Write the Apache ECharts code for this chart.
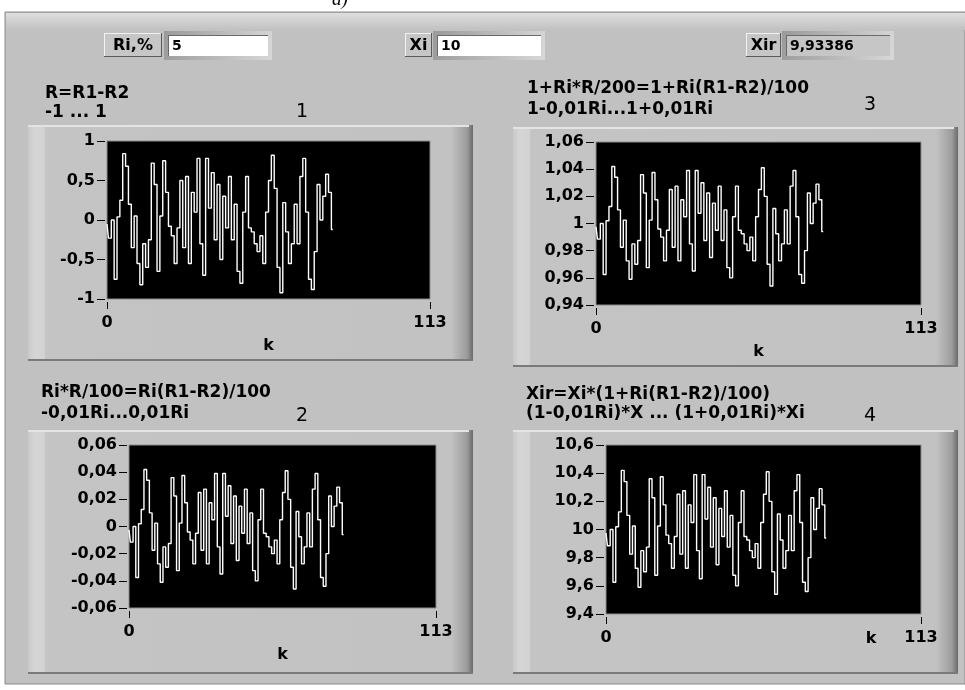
<!DOCTYPE html>
<html><head><meta charset="utf-8">
<script src="https://cdn.jsdelivr.net/npm/echarts@6/dist/echarts.min.js"></script>
<style>html,body{margin:0;padding:0;background:#fff}#c{width:965px;height:690px}</style>
</head><body><div id="c"></div>
<script>
// ---- data (k = array index) ----
const R = [-0.05,-0.23,0.0,-0.75,0.04,0.25,0.84,0.68,0.2,-0.35,0.05,-0.55,-0.82,-0.3,-0.6,-0.25,0.72,0.45,-0.65,0.05,0.75,0.35,-0.08,-0.2,-0.55,-0.1,0.5,-0.35,0.55,-0.55,0.35,0.1,0.78,-0.3,-0.7,0.78,0.15,0.6,-0.25,0.45,-0.5,0.3,-0.1,0.55,-0.25,0.2,-0.65,-0.8,0.1,0.55,-0.1,-0.15,-0.3,-0.4,-0.2,-0.55,0.1,0.5,0.82,0.4,-0.6,-0.92,0.22,-0.15,-0.55,-0.3,0.2,-0.3,0.55,0.78,0.1,-0.75,-0.88,-0.4,0.45,0.0,0.3,0.58,0.35,-0.12];
const S2 = [-0.0025,-0.0115,0,-0.0375,0.002,0.0125,0.042,0.034,0.01,-0.0175,0.0025,-0.0275,-0.041,-0.015,-0.03,-0.0125,0.036,0.0225,-0.0325,0.0025,0.0375,0.0175,-0.004,-0.01,-0.0275,-0.005,0.025,-0.0175,0.0275,-0.0275,0.0175,0.005,0.039,-0.015,-0.035,0.039,0.0075,0.03,-0.0125,0.0225,-0.025,0.015,-0.005,0.0275,-0.0125,0.01,-0.0325,-0.04,0.005,0.0275,-0.005,-0.0075,-0.015,-0.02,-0.01,-0.0275,0.005,0.025,0.041,0.02,-0.03,-0.046,0.011,-0.0075,-0.0275,-0.015,0.01,-0.015,0.0275,0.039,0.005,-0.0375,-0.044,-0.02,0.0225,0,0.015,0.029,0.0175,-0.006];
const S3 = [0.9975,0.9885,1,0.9625,1.002,1.0125,1.042,1.034,1.01,0.9825,1.0025,0.9725,0.959,0.985,0.97,0.9875,1.036,1.0225,0.9675,1.0025,1.0375,1.0175,0.996,0.99,0.9725,0.995,1.025,0.9825,1.0275,0.9725,1.0175,1.005,1.039,0.985,0.965,1.039,1.0075,1.03,0.9875,1.0225,0.975,1.015,0.995,1.0275,0.9875,1.01,0.9675,0.96,1.005,1.0275,0.995,0.9925,0.985,0.98,0.99,0.9725,1.005,1.025,1.041,1.02,0.97,0.954,1.011,0.9925,0.9725,0.985,1.01,0.985,1.0275,1.039,1.005,0.9625,0.956,0.98,1.0225,1,1.015,1.029,1.0175,0.994];
const S4 = [9.975,9.885,10,9.625,10.02,10.125,10.42,10.34,10.1,9.825,10.025,9.725,9.59,9.85,9.7,9.875,10.36,10.225,9.675,10.025,10.375,10.175,9.96,9.9,9.725,9.95,10.25,9.825,10.275,9.725,10.175,10.05,10.39,9.85,9.65,10.39,10.075,10.3,9.875,10.225,9.75,10.15,9.95,10.275,9.875,10.1,9.675,9.6,10.05,10.275,9.95,9.925,9.85,9.8,9.9,9.725,10.05,10.25,10.41,10.2,9.7,9.54,10.11,9.925,9.725,9.85,10.1,9.85,10.275,10.39,10.05,9.625,9.56,9.8,10.225,10,10.15,10.29,10.175,9.94];
const X_TICKS = [0, 113];
const Y1 = [-1, 1, 0.5];
const Y2 = [-0.06, 0.06, 0.02];
const Y3 = [0.94, 1.06, 0.02];
const Y4 = [9.4, 10.6, 0.2];
const TITLES1 = ['R=R1-R2', '-1 ... 1', '1'];
const TITLES2 = ['Ri*R/100=Ri(R1-R2)/100', '-0,01Ri...0,01Ri', '2'];
const TITLES3 = ['1+Ri*R/200=1+Ri(R1-R2)/100', '1-0,01Ri...1+0,01Ri', '3'];
const TITLES4 = ['Xir=Xi*(1+Ri(R1-R2)/100)', '(1-0,01Ri)*X ... (1+0,01Ri)*Xi', '4'];
const CONTROLS = [['Ri,%', '5'], ['Xi', '10'], ['Xir', '9,93386']];

// ---- styling helpers ----
const FONT = '"DejaVu Sans", Verdana, sans-serif';
const BOLD16 = 'bold 16px ' + FONT;
const BOLD17 = 'bold 17px ' + FONT;
function rect(x, y, w, h, fill, extra) {
  return Object.assign({type: 'rect', silent: true, z: -10, shape: {x, y, width: w, height: h}, style: {fill}}, extra || {});
}
function ln(x1, y1, x2, y2, c, w) {
  return {type: 'line', silent: true, z: -9, shape: {x1, y1, x2, y2}, style: {stroke: c, lineWidth: w || 1}};
}
function txt(x, y, s, font, align) {
  return {type: 'text', silent: true, z: 10, x, y, style: {text: s, font, fill: '#000', textAlign: align || 'left', textVerticalAlign: 'middle'}};
}
function frame(x, y, w, h) {
  return [
    rect(x, y, w, h, {type: 'linear', x: 0, y: 0, x2: 1, y2: 0, colorStops: [
      {offset: 0, color: '#c8c8c8'}, {offset: 6 / w, color: '#d5d5d5'}, {offset: 16 / w, color: '#d3d3d3'},
      {offset: 18 / w, color: '#c4c4c4'}, {offset: (w - 22) / w, color: '#c2c2c2'},
      {offset: (w - 6) / w, color: '#9c9c9c'}, {offset: 1, color: '#6a6a6a'}]}),
    ln(x, y + 1, x + w - 4, y + 1, '#e4e4e4', 2),
    ln(x, y + h - 1, x + w, y + h - 1, '#7a7a7a', 2)
  ];
}
function button(x, y, w, h, label) {
  return [
    rect(x, y, w, h, '#c6c6c6'),
    ln(x, y + 0.5, x + w, y + 0.5, '#f2f2f2', 1), ln(x + 0.5, y, x + 0.5, y + h, '#f2f2f2', 1),
    ln(x, y + h - 0.5, x + w, y + h - 0.5, '#5a5a5a', 1), ln(x + w - 0.5, y, x + w - 0.5, y + h, '#5a5a5a', 1),
    txt(x + w / 2, y + h / 2 + 1, label, 'bold 16px ' + FONT, 'center')
  ];
}
function box(x, y, w, h, value, fill) {
  return [
    rect(x - 4, y - 4, w + 8, h + 8, {type: 'linear', x: 0, y: 0, x2: 1, y2: 1, colorStops: [
      {offset: 0, color: '#9a9a9a'}, {offset: 1, color: '#d8d8d8'}]}),
    rect(x, y, w, h, fill),
    ln(x, y + 0.5, x + w, y + 0.5, '#6a6a6a', 1), ln(x + 0.5, y, x + 0.5, y + h, '#6a6a6a', 1),
    txt(x + 4, y + h / 2 + 1, value, 'bold 14px ' + FONT, 'left')
  ];
}
function titles(x, y1, y2, nx, ny, t) {
  return [txt(x, y1, t[0], BOLD17), txt(x, y2, t[1], BOLD17), txt(nx, ny, t[2], '19px ' + FONT, 'center')];
}

const graphic = [].concat(
  [rect(5, 12, 960, 672, '#c1c1c1', {style: {fill: '#c1c1c1', stroke: '#8a8a8a', lineWidth: 1}}),
   rect(6, 13, 959, 17, {type: 'linear', x: 0, y: 0, x2: 0, y2: 1, colorStops: [{offset: 0, color: '#dedede'}, {offset: 1, color: '#c1c1c1'}]}),
   {type: 'text', silent: true, z: 10, x: 340, y: 9, style: {text: 'a)', font: 'italic 19px "Liberation Serif", serif', fill: '#000', textAlign: 'center', textVerticalAlign: 'bottom'}}],
  button(104, 33, 58, 24, CONTROLS[0][0]), box(168, 35, 100, 21, CONTROLS[0][1], '#ffffff'),
  button(405, 33, 27, 24, CONTROLS[1][0]), box(437, 35, 104, 21, CONTROLS[1][1], '#ffffff'),
  button(746, 33, 35, 24, CONTROLS[2][0]), box(786, 35, 104, 21, CONTROLS[2][1], '#c6c6c6'),
  frame(28, 125, 445, 236), frame(513, 127, 445, 240),
  frame(28, 430, 445, 244), frame(513, 430, 445, 244),
  titles(45, 94, 113, 302, 112, TITLES1),
  titles(41, 393, 414, 302, 416, TITLES2),
  titles(527, 89, 110, 870, 105, TITLES3),
  titles(526, 395, 414, 870, 416, TITLES4),
  [txt(871, 639, 'k', BOLD16, 'center')]
);

function fmt(v) { return String(+(+v).toFixed(2)).replace('.', ','); }
function yAxis(idx, r, margin) {
  return {type: 'value', gridIndex: idx, min: r[0], max: r[1], interval: r[2], offset: 2,
    axisLine: {show: false, onZero: false}, splitLine: {show: false},
    axisTick: {show: true, length: 8, lineStyle: {color: '#000', width: 1}},
    axisLabel: {color: '#000', fontWeight: 'bold', fontSize: 16, fontFamily: FONT, margin: margin, formatter: fmt}};
}
function xAxis(idx, name) {
  return {type: 'value', gridIndex: idx, min: X_TICKS[0], max: X_TICKS[1], interval: X_TICKS[1] - X_TICKS[0], offset: 3,
    axisLine: {show: false, onZero: false}, splitLine: {show: false},
    axisTick: {show: true, length: 7, lineStyle: {color: '#000', width: 1}},
    axisLabel: {color: '#000', fontWeight: 'bold', fontSize: 16, fontFamily: FONT, margin: 13},
    name: name, nameLocation: 'middle', nameGap: 36,
    nameTextStyle: {color: '#000', fontWeight: 'bold', fontSize: 16, fontFamily: FONT}};
}
function grid(l, t, w, h) {
  return {left: l, top: t, width: w, height: h, show: true, backgroundColor: '#000', borderColor: '#8c8c8c', borderWidth: 1};
}
function series(idx, arr) {
  return {type: 'line', xAxisIndex: idx, yAxisIndex: idx, showSymbol: false, symbol: 'none', step: 'middle',
    lineStyle: {color: '#ffffff', width: 1.4}, data: arr.map((v, i) => [i, v]), z: 3};
}

const chart = echarts.init(document.getElementById('c'), null, {renderer: 'canvas'});
chart.setOption({
  animation: false,
  backgroundColor: '#ffffff',
  graphic: graphic,
  grid: [grid(107, 141, 323, 158), grid(129, 445, 307, 163), grid(596, 142, 325, 163), grid(606, 445, 315, 169)],
  xAxis: [xAxis(0, 'k'), xAxis(1, 'k'), xAxis(2, 'k'), xAxis(3, '')],
  yAxis: [yAxis(0, Y1, 10), yAxis(1, Y2, 10), yAxis(2, Y3, 10), yAxis(3, Y4, 10)],
  series: [series(0, R), series(1, S2), series(2, S3), series(3, S4)]
});
</script></body></html>
